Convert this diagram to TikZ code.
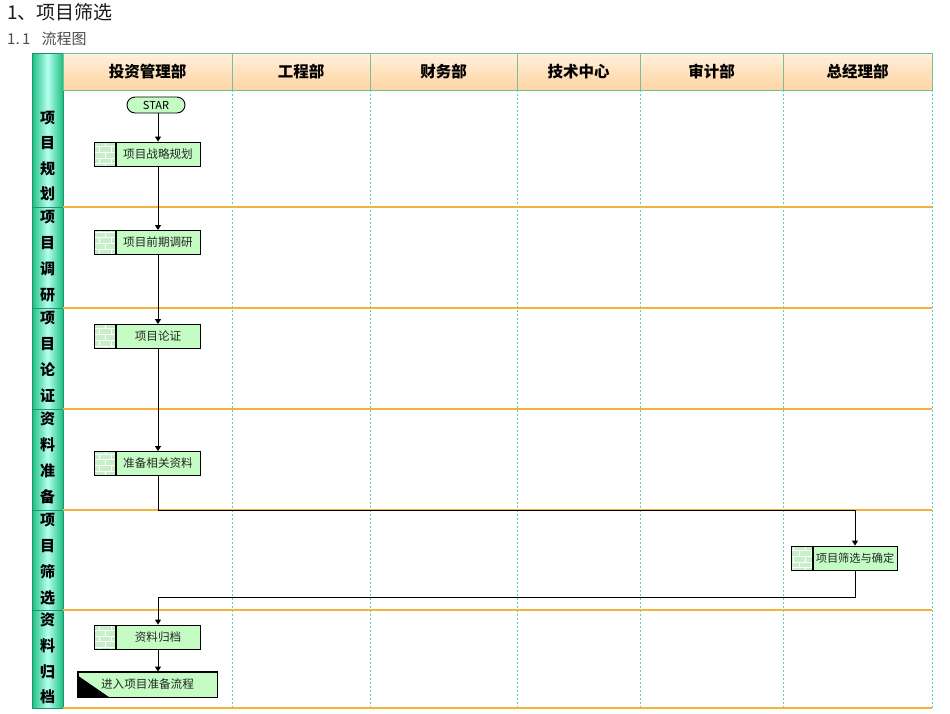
\documentclass[tikz,border=0pt]{standalone}
\usepackage{fontspec}
\setmainfont{Noto Sans CJK SC}
\usetikzlibrary{arrows.meta,patterns,calc}
\definecolor{boxg}{RGB}{196,252,196}
\definecolor{iconbg}{RGB}{200,240,200}
\definecolor{laneline}{RGB}{240,180,60}
\definecolor{dashc}{RGB}{90,200,200}
\definecolor{hdrline}{RGB}{120,190,150}
\definecolor{colgreen}{RGB}{30,190,130}
\definecolor{colcyan}{RGB}{180,255,240}
\definecolor{hdrtop}{RGB}{255,242,225}
\definecolor{hdrbot}{RGB}{255,214,165}
\tikzset{
  arr/.style={draw=black, line width=1pt, -{Triangle[length=5pt,width=6pt]}},
  proc/.style={draw=black, line width=0.9pt, fill=boxg, minimum width=84pt, minimum height=24pt, inner sep=0pt, text=black!85, font=\fontsize{11.6}{11.6}\selectfont},
  icon/.style={draw=black, line width=0.9pt, minimum width=21pt, minimum height=24pt, inner sep=0pt, preaction={fill=iconbg}, pattern=bricks, pattern color=white},
  hdrtext/.style={font=\fontsize{15.5}{15.5}\selectfont\bfseries, inner sep=0pt},
  lanechar/.style={font=\fontsize{15}{15}\selectfont\bfseries, inner sep=0pt},
}
\begin{document}
\begin{tikzpicture}[x=1pt,y=-1pt]
\useasboundingbox (0,0) rectangle (950,713);
% titles
\node[anchor=west, inner sep=0pt, font=\fontsize{19}{19}\selectfont, text=black!90] (title) at (7,12) {1、项目筛选};
\node[anchor=west, inner sep=0pt, font=\fontsize{15}{15}\selectfont, text=black!70] (sub) at (7,39) {1.\,1\hspace{11pt}流程图};
% left column
\shade[left color=colgreen, right color=colgreen, middle color=colcyan] (32,53) rectangle (63,708);
\draw[colgreen!80!black, line width=0.8pt] (32,53) rectangle (63,708);
\foreach \yy in {207,308,409,510,610}{
  \draw[colgreen!80!black, line width=0.8pt] (32,\yy) -- (63,\yy);
}
% header
\foreach \a/\b/\t [count=\i] in {63/232/投资管理部, 232/370/工程部, 370/517/财务部, 517/640/技术中心, 640/783/审计部, 783/932/总经理部}{
  \shade[top color=hdrtop, bottom color=hdrbot, middle color=hdrbot!60!hdrtop] (\a,53) rectangle (\b,90);
  \draw[hdrline, line width=1pt] (\a,53) rectangle (\b,90);
  \node[hdrtext] (h\i) at ({(\a+\b)/2},71.5) {\t};
}
% dashed verticals
\foreach \xx in {232,370,517,640,783,932}{
  \draw[dashc, line width=0.8pt, dash pattern=on 2pt off 2pt] (\xx,90) -- (\xx,708);
}
% lane lines
\foreach \yy in {207,308,409,510,610,708}{
  \draw[laneline, line width=1.4pt] (63,\yy) -- (932,\yy);
}
% lane labels
\foreach \c/\yy [count=\i] in {项/118,目/143,规/169,划/194,
  项/217,目/243,调/269,研/295,
  项/318,目/344,论/370,证/396,
  资/419,料/445,准/471,备/497,
  项/520,目/546,筛/572,选/598,
  资/620,料/646,归/672,档/697}{
  \node[lanechar] (l\i) at (47.5,\yy) {\c};
}
% nodes
\node[draw=black, line width=0.9pt, fill=boxg, rounded corners=8pt, minimum width=58pt, minimum height=16pt, inner sep=0pt, font=\fontsize{11}{11}\selectfont] (star) at (156,105) {STAR};
\node[proc] (p1) at (158,154) {项目战略规划};
\node[proc] (p2) at (158,242.5) {项目前期调研};
\node[proc] (p3) at (158,336.5) {项目论证};
\node[proc] (p4) at (158,463.5) {准备相关资料};
\node[proc, font=\fontsize{11.2}{11.2}\selectfont] (p5) at (855,558) {项目筛选与确定};
\node[proc] (p6) at (158,637) {资料归档};
\foreach \n in {p1,p2,p3,p4,p5,p6}{
  \node[icon, anchor=east] (i\n) at (\n.west) {};
}
\node[draw=black, line width=0.9pt, fill=boxg, minimum width=139pt, minimum height=25pt, inner sep=0pt, text=black!85, font=\fontsize{11.6}{11.6}\selectfont] (p7) at (147.5,684.5) {进入项目准备流程};
\fill[black] (p7.south west) -- ($(p7.south west)+(32,0)$) -- ($(p7.south west)+(0,-22)$) -- cycle;
\draw[black, line width=0.9pt] (p7.south west) rectangle (p7.north east);
% connectors
\draw[arr] (p1.north |- star.south) -- (p1.north);
\draw[arr] (p1.south) -- (p2.north);
\draw[arr] (p2.south) -- (p3.north);
\draw[arr] (p3.south) -- (p4.north);
\draw[arr] (p4.south) -- ++(0,35) -| (p5.north);
\draw[arr] (p5.south) -- ++(0,27) -| (p6.north);
\draw[arr] (p6.south) -- (p6.south |- p7.north);
\end{tikzpicture}
\end{document}
